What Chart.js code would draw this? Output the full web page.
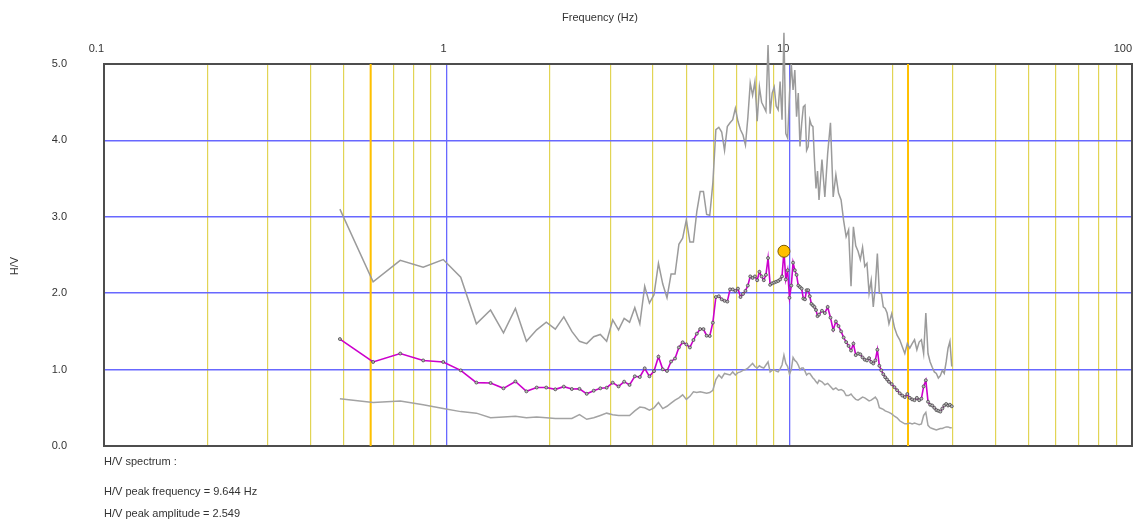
<!DOCTYPE html>
<html>
<head>
<meta charset="utf-8">
<title>H/V spectrum</title>
<script src="https://cdn.jsdelivr.net/npm/chart.js@4.4.1/dist/chart.umd.min.js"></script>
<style>
  html, body { margin: 0; padding: 0; background: #ffffff; }
  #wrap { width: 1143px; height: 525px; position: relative; }
  canvas { display: block; }
</style>
</head>
<body>
<div id="wrap"><canvas id="hv" width="1143" height="525"></canvas></div>
<script>
// Spectral bins (Hz)
const freqHz = [
  0.488, 0.610, 0.732, 0.854, 0.977, 1.099, 1.221, 1.343, 1.465, 1.587,
  1.709, 1.831, 1.953, 2.075, 2.197, 2.319, 2.441, 2.563, 2.686, 2.808,
  2.930, 3.052, 3.174, 3.296, 3.418, 3.540, 3.662, 3.784, 3.906, 4.028,
  4.150, 4.272, 4.395, 4.517, 4.639, 4.761, 4.883, 5.005, 5.127, 5.249,
  5.371, 5.493, 5.615, 5.737, 5.859, 5.981, 6.104, 6.226, 6.348, 6.470,
  6.592, 6.714, 6.836, 6.958, 7.080, 7.202, 7.324, 7.446, 7.568, 7.690,
  7.812, 7.935, 8.057, 8.179, 8.301, 8.423, 8.545, 8.667, 8.789, 8.911,
  9.033, 9.155, 9.277, 9.399, 9.521, 9.644, 9.766, 9.888, 10.010, 10.132,
  10.254, 10.376, 10.498, 10.620, 10.742, 10.864, 10.986, 11.108, 11.230, 11.353,
  11.475, 11.597, 11.719, 11.841, 11.963, 12.085, 12.207,
  12.451, 12.695, 12.939, 13.184, 13.428, 13.672, 13.916, 14.160, 14.404, 14.648,
  14.893, 15.137, 15.381, 15.625, 15.869, 16.113, 16.357, 16.602, 16.846, 17.090,
  17.334, 17.578, 17.822, 18.066, 18.311, 18.555, 18.799, 19.043, 19.287, 19.531,
  19.897, 20.264, 20.630, 20.996, 21.362, 21.728, 22.095, 22.461, 22.827, 23.193,
  23.560, 23.926, 24.292, 24.658, 25.024, 25.391, 25.757, 26.123, 26.489, 26.855,
  27.222, 27.588, 27.954, 28.320, 28.687, 29.053, 29.419, 29.785
];

// Average H/V ratio
const hvMean = [
  1.40, 1.10, 1.21, 1.12, 1.10, 0.99, 0.83, 0.825, 0.755, 0.845,
  0.715, 0.765, 0.765, 0.742, 0.777, 0.746, 0.748, 0.683, 0.724, 0.755,
  0.763, 0.829, 0.780, 0.842, 0.800, 0.912, 0.903, 1.017, 0.912, 0.980,
  1.169, 1.004, 0.982, 1.106, 1.145, 1.290, 1.357, 1.330, 1.290, 1.387,
  1.470, 1.530, 1.530, 1.444, 1.440, 1.614, 1.950, 1.960, 1.920, 1.900,
  1.890, 2.050, 2.050, 2.030, 2.060, 1.950, 1.990, 2.030, 2.100, 2.220,
  2.200, 2.220, 2.170, 2.280, 2.220, 2.170, 2.240, 2.460, 2.110, 2.130,
  2.140, 2.150, 2.160, 2.180, 2.220, 2.549, 2.180, 2.300, 1.940, 2.100,
  2.400, 2.300, 2.240, 2.100, 2.080, 2.060, 1.930, 1.920, 2.040, 2.040,
  1.960, 1.860, 1.840, 1.820, 1.780, 1.700, 1.720,
  1.77, 1.74, 1.82, 1.68, 1.52, 1.63, 1.57, 1.50, 1.42, 1.36,
  1.31, 1.25, 1.34, 1.19, 1.21, 1.20, 1.16, 1.13, 1.12, 1.15,
  1.10, 1.08, 1.12, 1.26, 1.05, 0.99, 0.94, 0.90, 0.87, 0.84,
  0.81, 0.77, 0.73, 0.69, 0.66, 0.64, 0.68, 0.63, 0.61, 0.60,
  0.63, 0.60, 0.62, 0.78, 0.86, 0.58, 0.54, 0.53, 0.50, 0.47,
  0.46, 0.45, 0.49, 0.53, 0.55, 0.53, 0.54, 0.52
];

// Average + standard deviation
const hvUpper = [
  3.10, 2.15, 2.43, 2.34, 2.44, 2.21, 1.60, 1.78, 1.48, 1.80,
  1.37, 1.52, 1.62, 1.53, 1.69, 1.50, 1.37, 1.34, 1.43, 1.46,
  1.37, 1.65, 1.52, 1.67, 1.62, 1.81, 1.60, 2.09, 1.87, 1.98,
  2.39, 2.12, 1.94, 2.25, 2.25, 2.64, 2.72, 2.96, 2.67, 2.67,
  3.07, 3.33, 3.33, 3.03, 3.02, 3.44, 4.14, 4.17, 4.11, 3.87,
  4.18, 4.23, 4.27, 4.42, 4.25, 4.14, 4.07, 3.94, 4.30, 4.75,
  4.59, 4.77, 4.25, 4.70, 4.50, 4.44, 4.38, 5.25, 4.35, 4.62,
  4.70, 4.45, 4.40, 4.77, 4.27, 5.41, 4.09, 4.03, 4.60, 5.00,
  4.66, 4.92, 4.31, 4.62, 3.92, 4.22, 4.44, 4.46, 3.87, 3.92,
  4.27, 4.20, 4.18, 3.74, 3.37, 3.60, 3.22,
  3.75, 3.26, 3.83, 4.23, 3.26, 3.55, 3.31, 3.22, 2.95, 2.74,
  2.83, 2.09, 2.87, 2.62, 2.55, 2.44, 2.60, 2.35, 2.39, 2.00,
  2.17, 1.82, 2.09, 2.52, 2.00, 2.00, 1.82, 1.80, 1.74, 1.60,
  1.73, 1.55, 1.45, 1.39, 1.30, 1.21, 1.34, 1.28, 1.34, 1.39,
  1.26, 1.36, 1.39, 1.21, 1.74, 1.21, 1.10, 1.03, 0.97, 0.95,
  0.89, 0.92, 0.99, 0.95, 1.10, 1.28, 1.37, 1.04
];

// Average - standard deviation
const hvLower = [
  0.62, 0.57, 0.59, 0.54, 0.49, 0.45, 0.43, 0.37, 0.38, 0.39,
  0.37, 0.38, 0.37, 0.36, 0.36, 0.36, 0.41, 0.35, 0.37, 0.40,
  0.43, 0.41, 0.40, 0.40, 0.40, 0.46, 0.51, 0.50, 0.47, 0.50,
  0.57, 0.49, 0.52, 0.56, 0.60, 0.63, 0.67, 0.61, 0.65, 0.71,
  0.70, 0.71, 0.70, 0.69, 0.70, 0.73, 0.87, 0.93, 0.89, 0.95,
  0.94, 0.93, 0.97, 0.93, 0.96, 0.97, 0.99, 1.00, 1.02, 1.05,
  1.08, 1.04, 1.02, 1.05, 1.03, 1.02, 1.06, 1.10, 0.97, 0.99,
  1.00, 0.98, 0.97, 1.01, 1.06, 1.19, 1.08, 1.04, 0.94, 1.00,
  1.16, 1.12, 1.10, 1.06, 1.00, 1.02, 1.02, 0.98, 0.93, 0.95,
  0.95, 0.92, 0.89, 0.87, 0.84, 0.82, 0.86,
  0.84, 0.80, 0.82, 0.78, 0.74, 0.76, 0.73, 0.74, 0.72, 0.66,
  0.66, 0.68, 0.64, 0.61, 0.60, 0.62, 0.64, 0.63, 0.61, 0.59,
  0.60, 0.62, 0.64, 0.60, 0.50, 0.49, 0.48, 0.46, 0.45, 0.44,
  0.42, 0.39, 0.37, 0.33, 0.31, 0.29, 0.29, 0.30, 0.29, 0.30,
  0.29, 0.28, 0.29, 0.40, 0.44, 0.27, 0.24, 0.23, 0.22, 0.21,
  0.22, 0.23, 0.23, 0.24, 0.25, 0.25, 0.24, 0.24
];

// H/V peak
const peakFreq = 9.644;
const peakAmp = 2.549;

// Frequency range limits (Hz)
const limitFreqs = [0.6, 22.2];

// Frequency grid and labels
const freqGridTicks = [
  0.1, 0.2, 0.3, 0.4, 0.5, 0.6, 0.7, 0.8, 0.9,
  1, 2, 3, 4, 5, 6, 7, 8, 9,
  10, 20, 30, 40, 50, 60, 70, 80, 90,
  100
];
const freqLabelValues = [0.1, 1, 10, 100];
const freqTickLabels = ['0.1', '1', '10', '100'];
const decadeLines = [1, 10];

// H/V axis
const hvMin = 0;
const hvMax = 5;
const hvStep = 1;

const FONT = '"Liberation Sans", Arial, Helvetica, sans-serif';
const TEXT = '#333333';
const YELLOW = 'rgb(226, 212, 84)';
const BLUE = 'rgb(104, 104, 255)';
const ORANGE = '#FFC000';

const toPoints = (ys) => freqHz.map((f, i) => ({ x: f, y: ys[i] }));
const vLine = (f) => [{ x: f, y: hvMin }, { x: f, y: hvMax }];

const infoLines = [
  { text: 'H/V spectrum :', y: 465 },
  { text: 'H/V peak frequency = ' + peakFreq.toFixed(3) + ' Hz', y: 495 },
  { text: 'H/V peak amplitude = ' + peakAmp.toFixed(3), y: 517 }
];

const frameAndText = {
  id: 'frameAndText',
  beforeDatasetsDraw(chart) {
    const { ctx, chartArea: a } = chart;
    ctx.save();
    ctx.strokeStyle = '#4d4d4d';
    ctx.lineWidth = 2;
    ctx.strokeRect(a.left, a.top, a.right - a.left, a.bottom - a.top);
    ctx.restore();
  },
  afterDraw(chart) {
    const { ctx, chartArea: a } = chart;
    ctx.save();
    ctx.fillStyle = TEXT;
    ctx.font = '11px ' + FONT;
    ctx.textAlign = 'left';
    ctx.textBaseline = 'alphabetic';
    infoLines.forEach(l => ctx.fillText(l.text, a.left, l.y));

    ctx.textAlign = 'center';
    ctx.fillText('Frequency (Hz)', 600, 21);

    ctx.translate(15, 266);
    ctx.rotate(-Math.PI / 2);
    ctx.textBaseline = 'middle';
    ctx.fillText('H/V', 0, 0);
    ctx.restore();
  }
};

new Chart(document.getElementById('hv'), {
  type: 'line',
  data: {
    datasets: [
      {
        label: 'Peak',
        type: 'scatter',
        data: [{ x: peakFreq, y: peakAmp }],
        pointRadius: 6,
        pointBackgroundColor: ORANGE,
        pointBorderColor: '#7a5a00',
        pointBorderWidth: 1,
        showLine: false,
        clip: false
      },
      {
        label: 'H/V',
        data: toPoints(hvMean),
        borderColor: '#CC00CC',
        borderWidth: 1.6,
        pointRadius: 1.5,
        pointBackgroundColor: '#b8b8b8',
        pointBorderColor: '#3c3c3c',
        pointBorderWidth: 0.7,
        clip: false
      },
      {
        label: 'H/V + σ',
        data: toPoints(hvUpper),
        borderColor: '#9b9b9b',
        borderWidth: 1.5,
        pointRadius: 0,
        clip: false
      },
      {
        label: 'H/V - σ',
        data: toPoints(hvLower),
        borderColor: '#a3a3a3',
        borderWidth: 1.5,
        pointRadius: 0,
        clip: false
      },
      {
        label: 'f min',
        data: vLine(limitFreqs[0]),
        borderColor: ORANGE,
        borderWidth: 2,
        pointRadius: 0
      },
      {
        label: 'f max',
        data: vLine(limitFreqs[1]),
        borderColor: ORANGE,
        borderWidth: 2,
        pointRadius: 0
      }
    ]
  },
  options: {
    responsive: false,
    animation: false,
    devicePixelRatio: 1,
    events: [],
    layout: { padding: { left: 0, top: 0, right: 11, bottom: 79 } },
    elements: { line: { tension: 0 } },
    plugins: {
      legend: { display: false },
      tooltip: { enabled: false },
      title: { display: false }
    },
    scales: {
      x: {
        type: 'logarithmic',
        position: 'top',
        min: 0.1,
        max: 100,
        afterBuildTicks(scale) {
          scale.ticks = freqGridTicks.map(v => ({ value: v }));
        },
        afterFit(scale) { scale.height = 64; },
        border: { display: false },
        grid: {
          drawTicks: false,
          color(ctx) {
            const v = ctx.tick && ctx.tick.value;
            if (v === 0.1 || v === 100) return 'rgba(0,0,0,0)';
            return decadeLines.includes(v) ? BLUE : YELLOW;
          },
          lineWidth(ctx) {
            const v = ctx.tick && ctx.tick.value;
            return decadeLines.includes(v) ? 1.3 : 1.2;
          }
        },
        ticks: {
          autoSkip: false,
          maxRotation: 0,
          minRotation: 0,
          align: 'end',
          padding: 8,
          color: TEXT,
          font: { family: FONT, size: 11 },
          callback(value) {
            const i = freqLabelValues.indexOf(value);
            return i >= 0 ? freqTickLabels[i] : '';
          }
        }
      },
      y: {
        min: hvMin,
        max: hvMax,
        afterFit(scale) { scale.width = 104; },
        border: { display: false },
        grid: {
          drawTicks: false,
          color(ctx) {
            const v = ctx.tick && ctx.tick.value;
            return (v === hvMin || v === hvMax) ? 'rgba(0,0,0,0)' : BLUE;
          },
          lineWidth: 1.5
        },
        ticks: {
          stepSize: hvStep,
          padding: 37,
          color: TEXT,
          font: { family: FONT, size: 11 },
          callback: (v) => Number(v).toFixed(1)
        }
      }
    }
  },
  plugins: [frameAndText]
});
</script>
</body>
</html>
